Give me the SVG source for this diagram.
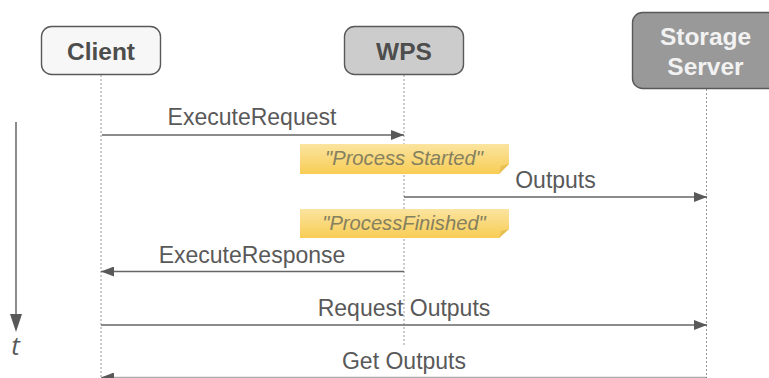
<svg xmlns="http://www.w3.org/2000/svg" width="769" height="378" viewBox="0 0 769 378">
<style>
text{font-family:"Liberation Sans",Arial,sans-serif}
.head{font-size:24.500px;font-weight:700;text-anchor:middle}
.msg{font-size:23px;fill:#595959;text-anchor:middle}
.note{font-size:20.200px;font-style:italic;fill:#85805f;text-anchor:middle}
.box{stroke:#595959;stroke-width:1.400}
.life{stroke:#999;stroke-width:1;stroke-dasharray:2 2;fill:none}
.conn{stroke:#666;stroke-width:1.400;fill:none}
.fold{fill:#e8bf55}
</style>
<defs>
<marker id="arr" markerUnits="userSpaceOnUse" markerWidth="13" markerHeight="10" refX="13" refY="5" orient="auto-start-reverse"><path d="M0 0L13 5L0 10Z" fill="#595959"/></marker>
<linearGradient id="noteG" x1="0" y1="0" x2="0" y2="1"><stop offset="0" stop-color="#fbe4a0"/><stop offset="1" stop-color="#f8cd55"/></linearGradient>
</defs>
<rect width="769" height="378" fill="#fff"/>
<g id="connectors">
<path class="life" d="M101 75V378"/>
<path class="life" d="M404 75V347"/>
<path class="life" d="M706.500 89V378"/>
<path class="conn" d="M102 135H404" marker-end="url(#arr)"/>
<path class="conn" d="M404 197H707" marker-end="url(#arr)"/>
<path class="conn" d="M404 271.500H101" marker-end="url(#arr)"/>
<path class="conn" d="M101 325H707" marker-end="url(#arr)"/>
<path class="conn" d="M707 377.500H101" stroke-opacity="0.550" marker-end="url(#arr)"/>
</g>
<g id="client"><rect class="box" x="41.500" y="26.500" width="119" height="48" rx="10" fill="#f7f7f7"/><text class="head" x="101" y="60" fill="#4d4d4d">Client</text></g>
<g id="wps"><rect class="box" x="344.500" y="26.500" width="119" height="48" rx="10" fill="#cccccc"/><text class="head" x="404" y="60" fill="#4d4d4d">WPS</text></g>
<g id="storage"><rect class="box" x="632.500" y="12.500" width="148" height="76" rx="10" fill="#999999"/><text class="head" x="705.500" y="45" fill="#f2f2f2">Storage</text><text class="head" x="705.500" y="75" fill="#f2f2f2">Server</text></g>
<g id="note-started"><path d="M300 144H509V164L499 174H300Z" fill="url(#noteG)"/><path class="fold" d="M509 164L499 174L501 166Z"/><text class="note" x="404" y="165">"Process Started"</text></g>
<g id="note-finished"><path d="M300 209H509V229L499 238H300Z" fill="url(#noteG)"/><path class="fold" d="M509 229L499 238L501 231Z"/><text class="note" x="404" y="230">"ProcessFinished"</text></g>
<g id="labels">
<text class="msg" x="252" y="125">ExecuteRequest</text>
<text class="msg" x="555.500" y="188">Outputs</text>
<text class="msg" x="252" y="263">ExecuteResponse</text>
<text class="msg" x="404" y="316">Request Outputs</text>
<text class="msg" x="404" y="369">Get Outputs</text>
</g>
<g id="time-axis">
<path d="M16 122V316" stroke="#808080" stroke-width="1.800" fill="none"/>
<path d="M10 314H22L16 332Z" fill="#595959"/>
<text x="15.500" y="355" font-size="26" font-style="italic" fill="#595959" text-anchor="middle" style="font-family:'Open Sans','Liberation Sans',sans-serif">t</text>
</g>
</svg>
